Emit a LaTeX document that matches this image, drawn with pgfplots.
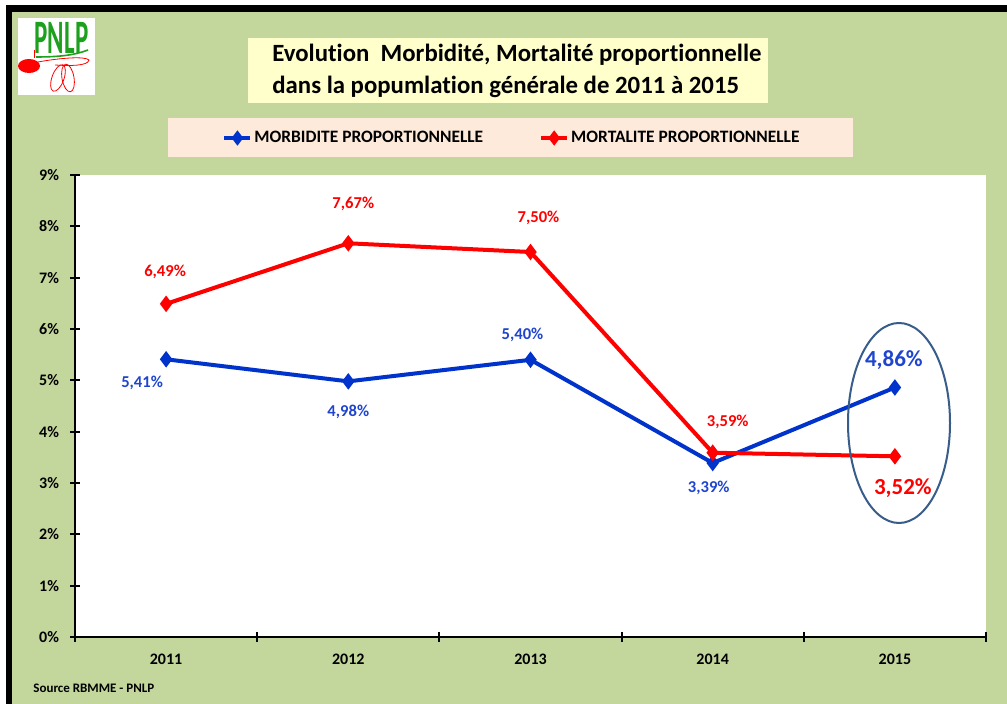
\documentclass[border=0pt]{standalone}
\usepackage{fontspec}
\setmainfont{Carlito}[Ligatures=NoCommon]
\usepackage{pgfplots}
\usepackage{pgfplotstable}
\pgfplotsset{compat=1.18}
\definecolor{bgGreen}{HTML}{C3D69B}
\definecolor{titleBox}{HTML}{FFFFCC}
\definecolor{legBox}{HTML}{FDEADA}
\definecolor{morbBlue}{HTML}{0033CC}
\definecolor{lblBlue}{HTML}{1F45D0}
\definecolor{mortRed}{HTML}{FF0000}
\definecolor{ellBlue}{HTML}{385D8A}
\definecolor{logoGreen}{HTML}{1DA01D}

% x y dx dy (label offset in px, y downward) fs (font size, pt)
\pgfplotstableread{
x y dx dy fs
0 5.41 -24 24 8.3
1 4.98 0 31 8.3
2 5.40 -8 -25 8.3
3 3.39 -4 25 8.3
4 4.86 -1 -27 11.5
}\morb
\pgfplotstableread{
x y dx dy fs
0 6.49 -1 -32 8.3
1 7.67 5 -39 8.3
2 7.50 8 -34 8.3
3 3.59 15 -31 8.3
4 3.52 8 32 11.5
}\mort

\begin{document}
\begin{tikzpicture}
\begin{scope}[x=0.5pt,y=-0.5pt]
  \useasboundingbox (0,0) rectangle (1007,704);
  \fill[white] (0,0) rectangle (1007,704);
  \fill[black] (6,5) rectangle (1007,704);
  \fill[bgGreen] (12,12) rectangle (1007,704);
  % logo
  \fill[white] (18,18) rectangle (95,95);
  \node[text=logoGreen, font=\fontsize{24}{24}\selectfont\bfseries, xscale=0.52, inner sep=0pt] at (61.5,38) {PNLP};
  \draw[logoGreen, line width=0.8pt] (36,57) .. controls (60,57) and (75,55) .. (88,50);
  \draw[red, line width=0.4pt] (38,62) .. controls (60,58) and (85,56) .. (89,60) .. controls (88,66) and (70,66) .. (55,65);
  \draw[red, line width=0.4pt, rotate around={70:(58,78)}] (58,78) ellipse (14 and 6);
  \draw[red, line width=0.4pt, rotate around={100:(68,78)}] (68,78) ellipse (14 and 6);
  \fill[red] (29,66) ellipse (11 and 7);
  \draw[red, line width=0.4pt] (34,50) -- (34,58);
  % title box
  \fill[titleBox] (248,38) rectangle (768,103);
  \node[anchor=west, inner sep=0pt, align=left, font=\fontsize{12.4}{16}\selectfont\bfseries] at (272,70.5)
    {Evolution\ \ Morbidité, Mortalité proportionnelle\\dans la popumlation générale de 2011 à 2015};
  % legend box
  \fill[legBox] (168,118) rectangle (853,157);
  % source
  \node[anchor=west, inner sep=0pt, font=\fontsize{6.5}{8}\selectfont\bfseries] at (33,688) {Source RBMME - PNLP};
\end{scope}

\begin{axis}[
  at={(37.5pt,-318.5pt)}, anchor=south west,
  scale only axis, width=455.5pt, height=231pt,
  xmin=-0.5, xmax=4.5, ymin=0, ymax=9,
  axis lines*=left,
  axis line style={line width=1pt, black},
  axis background/.style={fill=white},
  clip=false,
  /pgf/number format/assume math mode=true,
  tick align=center,
  major tick length=5pt,
  tick style={line width=1pt, black},
  ytick={0,1,...,9},
  yticklabel={\pgfmathprintnumber{\tick}\%},
  yticklabel style={font=\fontsize{8}{9}\selectfont\bfseries, xshift=-2pt},
  xtick={-0.5,0.5,1.5,2.5,3.5,4.5},
  xticklabels={},
  extra x ticks={0,1,2,3,4},
  extra x tick labels={2011,2012,2013,2014,2015},
  extra x tick style={major tick length=0pt, xticklabel style={font=\fontsize{8}{9}\selectfont\bfseries, yshift=-5pt}},
  legend columns=2,
  legend style={at={(0.1614,1.0801)}, anchor=west, draw=none, fill=none, inner sep=0pt,
    font=\fontsize{8.7}{10}\selectfont\bfseries,
    nodes={inner xsep=1pt, inner ysep=0pt},
    /tikz/every even column/.append style={column sep=27pt}},
  legend image code/.code={
    \draw[line width=2pt] (0pt,0pt) -- (13pt,0pt);
    \draw[mark size=2.2pt, mark=diamond*, mark options={solid}] plot coordinates {(6.5pt,0pt)};},
  nodes near coords={\pgfmathprintnumber[use comma, fixed, fixed zerofill, precision=2]{\pgfplotspointmeta}\%},
  visualization depends on={0.5*\thisrow{dx} \as \lbldx},
  visualization depends on={-0.5*\thisrow{dy} \as \lbldy},
  visualization depends on={\thisrow{fs} \as \lblfs},
  every node near coord/.append style={anchor=center, xshift=\lbldx pt, yshift=\lbldy pt,
    font=\fontsize{\lblfs}{12}\selectfont\bfseries},
]
\addplot[morbBlue, line width=2pt, mark=diamond*, mark size=2.5pt,
  every node near coord/.append style={text=lblBlue}] table[x=x, y=y] {\morb};
\addlegendentry{MORBIDITE PROPORTIONNELLE}
\addplot[mortRed, line width=2pt, mark=diamond*, mark size=2.5pt,
  every node near coord/.append style={text=mortRed}] table[x=x, y=y] {\mort};
\addlegendentry{MORTALITE PROPORTIONNELLE}
\end{axis}

\begin{scope}[x=0.5pt,y=-0.5pt]
  \draw[ellBlue, line width=1pt] (899,423) ellipse (51 and 100);
\end{scope}
\end{tikzpicture}
\end{document}
